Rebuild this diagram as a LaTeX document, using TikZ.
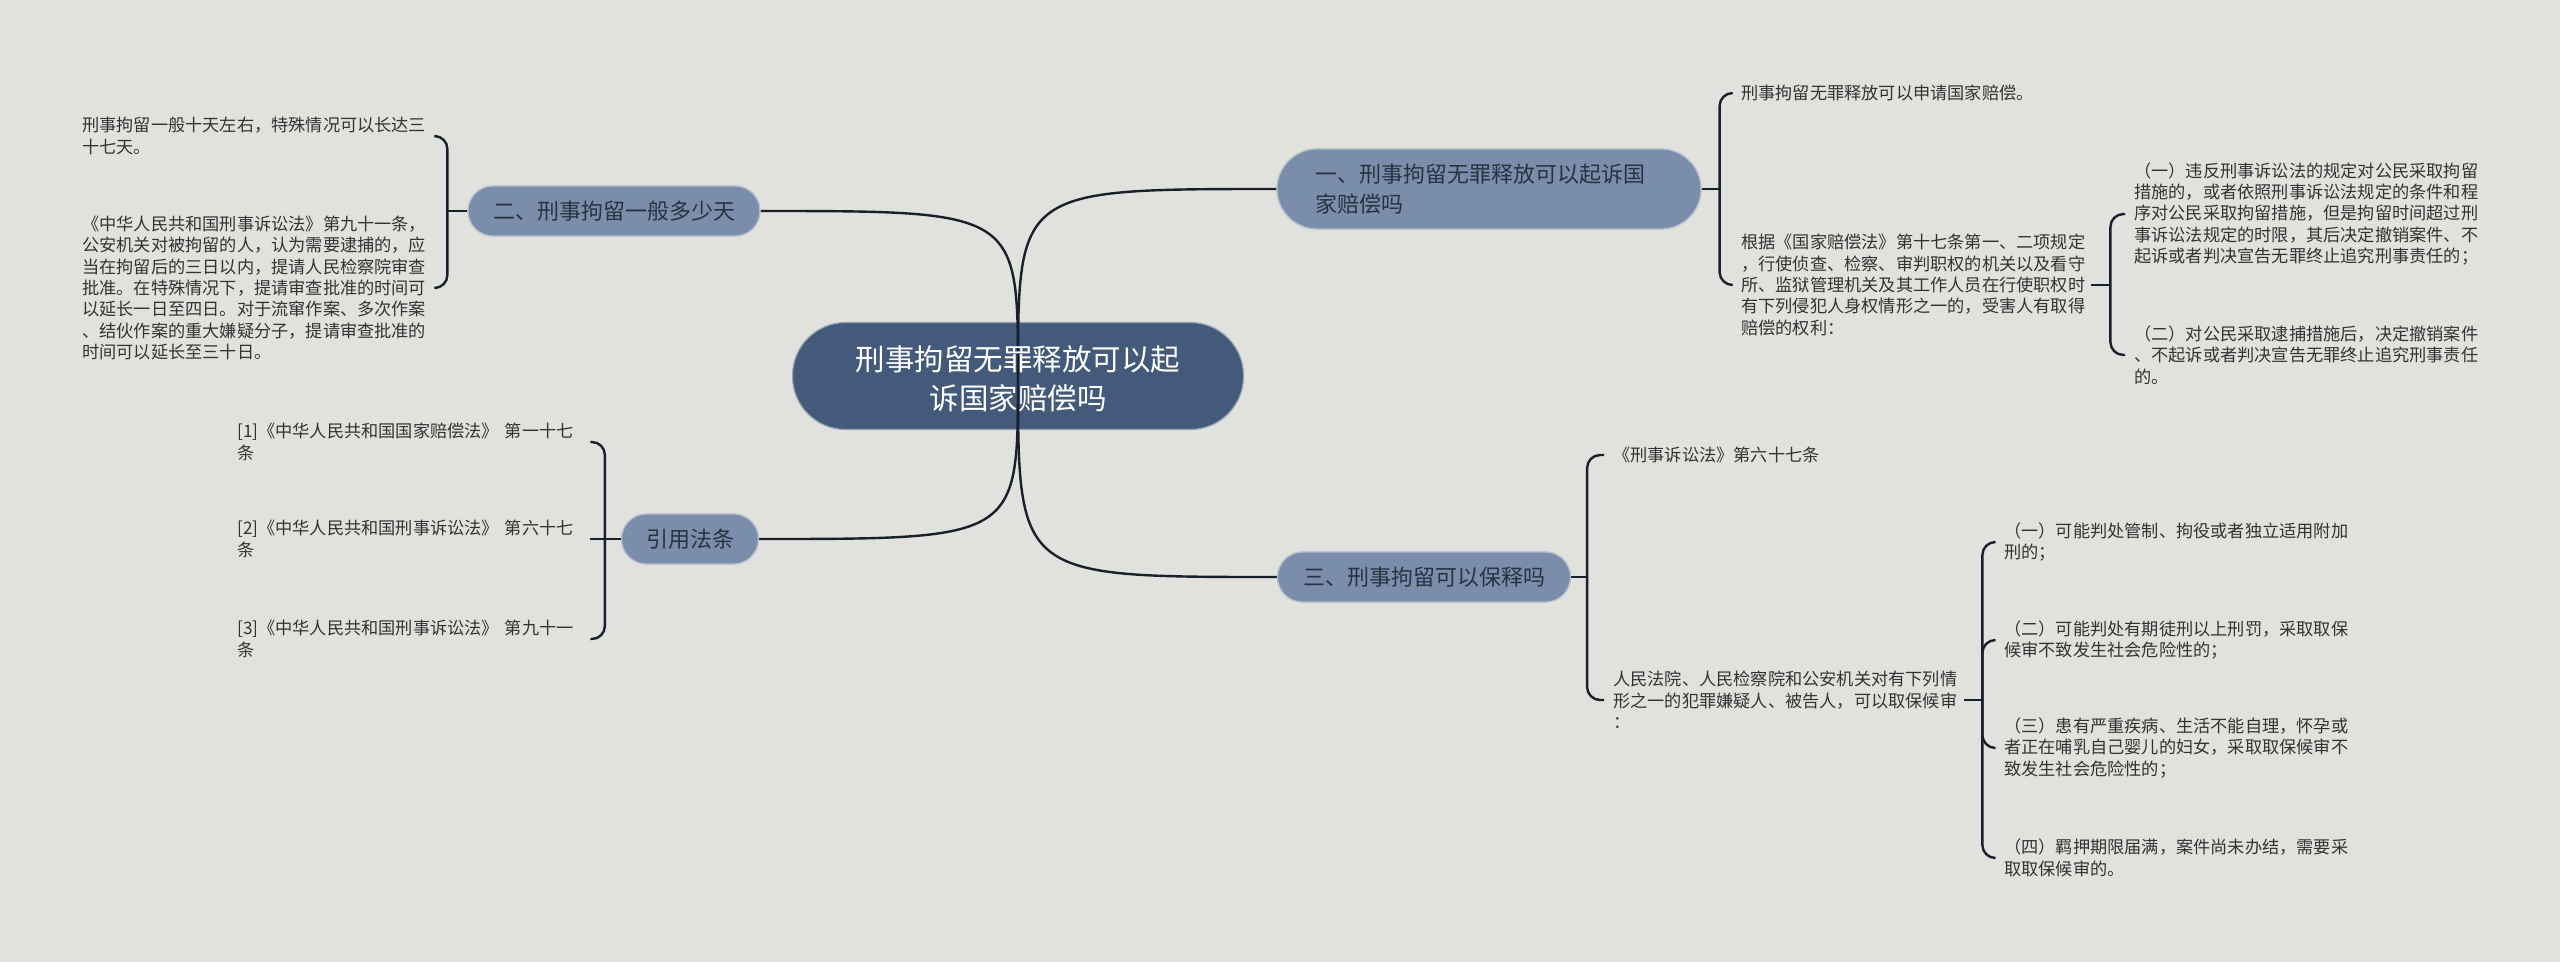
\documentclass[tikz,border=0pt]{standalone}
\usepackage{fontspec}
\newfontfamily\cjk{Noto Sans CJK SC}
\usetikzlibrary{calc}
\definecolor{bg}{HTML}{E1E1DD}
\definecolor{rootc}{HTML}{435A7A}
\definecolor{mainc}{HTML}{7A8DAA}
\definecolor{maintext}{HTML}{283341}
\definecolor{leaftext}{HTML}{333333}
\definecolor{linec}{HTML}{18202C}
\begin{document}
\begin{tikzpicture}[x=1pt,y=-1pt,
 link/.style={draw=linec, line width=2.4pt},
 brace/.style={link, rounded corners=13pt},
 root/.style={fill=rootc, draw=rootc!55!white, line width=1.2pt, rounded corners=53pt, minimum width=451pt, minimum height=107pt, inner sep=0pt},
 roottext/.style={text=white, font=\cjk\fontsize{29.5}{38.5}\selectfont, align=center, inner sep=0pt},
 topic/.style={fill=mainc, draw=mainc!55!white, line width=1.2pt, text=maintext, font=\cjk\fontsize{22}{30}\selectfont, inner sep=0pt, minimum height=50pt, rounded corners=25pt},
 leaf/.style={text=leaftext, font=\cjk\fontsize{17.2}{21.4}\selectfont, inner sep=0pt, align=left, anchor=west, text width=346pt},
 refleaf/.style={leaf, text width=338pt},
]
\fill[bg] (0,0) rectangle (2560,962);
\useasboundingbox (0,0) rectangle (2560,962);

% root shape
\node[root] (c) at (1018,376) {};

% topics
\node[topic, minimum width=292pt] (n2) at (614,211) {二、刑事拘留一般多少天};
\node[topic, minimum width=137pt] (n4) at (690,539) {引用法条};
\node[topic, minimum height=80pt, rounded corners=40pt, text width=348pt, inner xsep=38pt, align=left] (n1) at (1489,189) {一、刑事拘留无罪释放可以起诉国\\家赔偿吗};
\node[topic, minimum width=293pt] (n3) at (1424,577) {三、刑事拘留可以保释吗};

% main curves
\draw[link] (c.center) .. controls (c.center |- n1.west) .. (n1.west);
\draw[link] (c.center) .. controls (c.center |- n3.west) .. (n3.west);
\draw[link] (c.center) .. controls (c.center |- n2.east) .. (n2.east);
\draw[link] (c.center) .. controls (c.center |- n4.east) .. (n4.east);

% redraw topics over curve ends
\node[topic, minimum width=292pt] (n2b) at (n2) {二、刑事拘留一般多少天};
\node[topic, minimum width=137pt] (n4b) at (n4) {引用法条};
\node[topic, minimum height=80pt, rounded corners=40pt, text width=348pt, inner xsep=38pt, align=left] (n1b) at (n1) {一、刑事拘留无罪释放可以起诉国\\家赔偿吗};
\node[topic, minimum width=293pt] (n3b) at (n3) {三、刑事拘留可以保释吗};

\node[roottext] (ct) at (1018,379) {刑事拘留无罪释放可以起\\诉国家赔偿吗};

% leaves: branch 二
\node[leaf] (l21) at (82,136) {刑事拘留一般十天左右，特殊情况可以长达三\\十七天。};
\node[leaf] (l22) at (82,288) {《中华人民共和国刑事诉讼法》第九十一条，\\公安机关对被拘留的人，认为需要逮捕的，应\\当在拘留后的三日以内，提请人民检察院审查\\批准。在特殊情况下，提请审查批准的时间可\\以延长一日至四日。对于流窜作案、多次作案\\、结伙作案的重大嫌疑分子，提请审查批准的\\时间可以延长至三十日。};
\coordinate (t2) at ($(n2.west)+(-20,0)$);
\draw[link] (n2.west) -- (t2);
\draw[brace] (t2) |- ($(l21.east)+(8,0)$);
\draw[brace] (t2) |- ($(l22.east)+(8,0)$);

% leaves: 引用法条
\node[refleaf] (r1) at (237,442) {[1]《中华人民共和国国家赔偿法》 第一十七\\条};
\node[refleaf] (r2) at (237,539) {[2]《中华人民共和国刑事诉讼法》 第六十七\\条};
\node[refleaf] (r3) at (237,639) {[3]《中华人民共和国刑事诉讼法》 第九十一\\条};
\coordinate (t4) at ($(n4.west)+(-16,0)$);
\draw[link] (n4.west) -- ($(r2.east)+(15,0)$);
\draw[brace] (t4) |- ($(r1.east)+(15,0)$);
\draw[brace] (t4) |- ($(r3.east)+(15,0)$);

% leaves: branch 一
\node[leaf] (l11) at (1741,93) {刑事拘留无罪释放可以申请国家赔偿。};
\node[leaf] (l12) at (1741,285) {根据《国家赔偿法》第十七条第一、二项规定\\，行使侦查、检察、审判职权的机关以及看守\\所、监狱管理机关及其工作人员在行使职权时\\有下列侵犯人身权情形之一的，受害人有取得\\赔偿的权利：};
\coordinate (t1) at ($(n1.east)+(18,0)$);
\draw[link] (n1.east) -- (t1);
\draw[brace] (t1) |- ($(l11.west)+(-9,0)$);
\draw[brace] (t1) |- ($(l12.west)+(-9,0)$);

\node[leaf] (l121) at (2134,214) {（一）违反刑事诉讼法的规定对公民采取拘留\\措施的，或者依照刑事诉讼法规定的条件和程\\序对公民采取拘留措施，但是拘留时间超过刑\\事诉讼法规定的时限，其后决定撤销案件、不\\起诉或者判决宣告无罪终止追究刑事责任的；};
\node[leaf] (l122) at (2134,355) {（二）对公民采取逮捕措施后，决定撤销案件\\、不起诉或者判决宣告无罪终止追究刑事责任\\的。};
\coordinate (t12) at ($(l12.east)+(23,0)$);
\draw[link] ($(l12.east)+(4,0)$) -- (t12);
\draw[brace] (t12) |- ($(l121.west)+(-9,0)$);
\draw[brace] (t12) |- ($(l122.west)+(-9,0)$);

% leaves: branch 三
\node[leaf] (l31) at (1613,455) {《刑事诉讼法》第六十七条};
\node[leaf] (l32) at (1613,700) {人民法院、人民检察院和公安机关对有下列情\\形之一的犯罪嫌疑人、被告人，可以取保候审\\：};
\coordinate (t3) at ($(n3.east)+(16,0)$);
\draw[link] (n3.east) -- (t3);
\draw[brace] (t3) |- ($(l31.west)+(-9,0)$);
\draw[brace] (t3) |- ($(l32.west)+(-9,0)$);

\node[leaf] (l321) at (2004,542) {（一）可能判处管制、拘役或者独立适用附加\\刑的；};
\node[leaf] (l322) at (2004,640) {（二）可能判处有期徒刑以上刑罚，采取取保\\候审不致发生社会危险性的；};
\node[leaf] (l323) at (2004,748) {（三）患有严重疾病、生活不能自理，怀孕或\\者正在哺乳自己婴儿的妇女，采取取保候审不\\致发生社会危险性的；};
\node[leaf] (l324) at (2004,858) {（四）羁押期限届满，案件尚未办结，需要采\\取取保候审的。};
\coordinate (t32) at ($(l32.east)+(23,0)$);
\draw[link] ($(l32.east)+(5,0)$) -- (t32);
\draw[brace] (t32) |- ($(l321.west)+(-9,0)$);
\draw[brace] (t32) |- ($(l322.west)+(-9,0)$);
\draw[brace] (t32) |- ($(l323.west)+(-9,0)$);
\draw[brace] (t32) |- ($(l324.west)+(-9,0)$);
\end{tikzpicture}
\end{document}
